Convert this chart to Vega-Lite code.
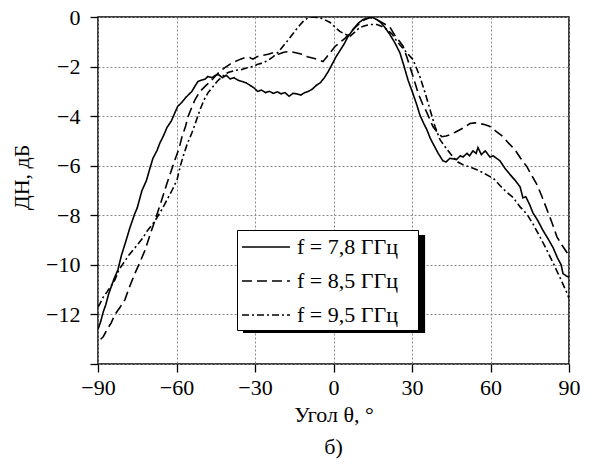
{
  "$schema": "https://vega.github.io/schema/vega-lite/v6.json",
  "width": 471,
  "height": 347,
  "autosize": {"type": "none"},
  "padding": {"left": 98, "top": 17, "right": 21, "bottom": 102},
  "background": "white",
  "title": {"text": "б)", "orient": "bottom", "font": "Liberation Serif, Times New Roman, serif", "fontSize": 22, "fontWeight": "normal", "color": "black", "offset": 12},
  "config": {
    "font": "Liberation Serif, Times New Roman, serif",
    "view": {"stroke": "black", "strokeWidth": 1.5},
    "axis": {
      "domain": false,
      "labelFont": "Liberation Serif, Times New Roman, serif",
      "labelFontSize": 22,
      "labelColor": "black",
      "titleFont": "Liberation Serif, Times New Roman, serif",
      "titleFontSize": 22,
      "titleFontWeight": "normal",
      "titleColor": "black",
      "tickColor": "black",
      "tickWidth": 1.3,
      "gridColor": "#8a8a8a",
      "gridDash": [2, 2],
      "gridWidth": 1
    }
  },
  "datasets": {
    "curves": [
      {"a": -90, "v": -12.6, "s": "f = 7,8 ГГц"},
      {"a": -89, "v": -12.3, "s": "f = 7,8 ГГц"},
      {"a": -88, "v": -11.9, "s": "f = 7,8 ГГц"},
      {"a": -87, "v": -11.6, "s": "f = 7,8 ГГц"},
      {"a": -86, "v": -11.2, "s": "f = 7,8 ГГц"},
      {"a": -85, "v": -10.9, "s": "f = 7,8 ГГц"},
      {"a": -84, "v": -10.6, "s": "f = 7,8 ГГц"},
      {"a": -82.4, "v": -10.2, "s": "f = 7,8 ГГц"},
      {"a": -81, "v": -9.6, "s": "f = 7,8 ГГц"},
      {"a": -79.5, "v": -9.1, "s": "f = 7,8 ГГц"},
      {"a": -77.8, "v": -8.5, "s": "f = 7,8 ГГц"},
      {"a": -76, "v": -7.95, "s": "f = 7,8 ГГц"},
      {"a": -75, "v": -7.7, "s": "f = 7,8 ГГц"},
      {"a": -73.2, "v": -7.0, "s": "f = 7,8 ГГц"},
      {"a": -71.5, "v": -6.6, "s": "f = 7,8 ГГц"},
      {"a": -70, "v": -6.05, "s": "f = 7,8 ГГц"},
      {"a": -69, "v": -5.7, "s": "f = 7,8 ГГц"},
      {"a": -67.5, "v": -5.4, "s": "f = 7,8 ГГц"},
      {"a": -66.3, "v": -5.07, "s": "f = 7,8 ГГц"},
      {"a": -65, "v": -4.8, "s": "f = 7,8 ГГц"},
      {"a": -63.6, "v": -4.45, "s": "f = 7,8 ГГц"},
      {"a": -62, "v": -4.2, "s": "f = 7,8 ГГц"},
      {"a": -60.6, "v": -3.86, "s": "f = 7,8 ГГц"},
      {"a": -59.5, "v": -3.6, "s": "f = 7,8 ГГц"},
      {"a": -58, "v": -3.45, "s": "f = 7,8 ГГц"},
      {"a": -56.5, "v": -3.25, "s": "f = 7,8 ГГц"},
      {"a": -54.1, "v": -3.0, "s": "f = 7,8 ГГц"},
      {"a": -53, "v": -2.8, "s": "f = 7,8 ГГц"},
      {"a": -51.8, "v": -2.6, "s": "f = 7,8 ГГц"},
      {"a": -50.5, "v": -2.55, "s": "f = 7,8 ГГц"},
      {"a": -49, "v": -2.5, "s": "f = 7,8 ГГц"},
      {"a": -48, "v": -2.4, "s": "f = 7,8 ГГц"},
      {"a": -46.5, "v": -2.45, "s": "f = 7,8 ГГц"},
      {"a": -45, "v": -2.35, "s": "f = 7,8 ГГц"},
      {"a": -44, "v": -2.32, "s": "f = 7,8 ГГц"},
      {"a": -42.5, "v": -2.45, "s": "f = 7,8 ГГц"},
      {"a": -41, "v": -2.35, "s": "f = 7,8 ГГц"},
      {"a": -39.5, "v": -2.5, "s": "f = 7,8 ГГц"},
      {"a": -38, "v": -2.45, "s": "f = 7,8 ГГц"},
      {"a": -36.5, "v": -2.55, "s": "f = 7,8 ГГц"},
      {"a": -35, "v": -2.6, "s": "f = 7,8 ГГц"},
      {"a": -33.5, "v": -2.65, "s": "f = 7,8 ГГц"},
      {"a": -32, "v": -2.75, "s": "f = 7,8 ГГц"},
      {"a": -30.5, "v": -2.85, "s": "f = 7,8 ГГц"},
      {"a": -29, "v": -3.0, "s": "f = 7,8 ГГц"},
      {"a": -27.5, "v": -2.95, "s": "f = 7,8 ГГц"},
      {"a": -26, "v": -3.05, "s": "f = 7,8 ГГц"},
      {"a": -24.5, "v": -3.0, "s": "f = 7,8 ГГц"},
      {"a": -23, "v": -3.08, "s": "f = 7,8 ГГц"},
      {"a": -21.5, "v": -3.02, "s": "f = 7,8 ГГц"},
      {"a": -20, "v": -3.1, "s": "f = 7,8 ГГц"},
      {"a": -18.5, "v": -3.05, "s": "f = 7,8 ГГц"},
      {"a": -17, "v": -3.2, "s": "f = 7,8 ГГц"},
      {"a": -15.5, "v": -3.08, "s": "f = 7,8 ГГц"},
      {"a": -14, "v": -3.1, "s": "f = 7,8 ГГц"},
      {"a": -12.5, "v": -3.15, "s": "f = 7,8 ГГц"},
      {"a": -11, "v": -3.05, "s": "f = 7,8 ГГц"},
      {"a": -9.5, "v": -3.0, "s": "f = 7,8 ГГц"},
      {"a": -8, "v": -2.9, "s": "f = 7,8 ГГц"},
      {"a": -6.5, "v": -2.75, "s": "f = 7,8 ГГц"},
      {"a": -5, "v": -2.65, "s": "f = 7,8 ГГц"},
      {"a": -3.5, "v": -2.45, "s": "f = 7,8 ГГц"},
      {"a": -2, "v": -2.2, "s": "f = 7,8 ГГц"},
      {"a": -0.5, "v": -1.9, "s": "f = 7,8 ГГц"},
      {"a": 1, "v": -1.6, "s": "f = 7,8 ГГц"},
      {"a": 2.5, "v": -1.35, "s": "f = 7,8 ГГц"},
      {"a": 4, "v": -1.1, "s": "f = 7,8 ГГц"},
      {"a": 5.5, "v": -0.8, "s": "f = 7,8 ГГц"},
      {"a": 7.5, "v": -0.5, "s": "f = 7,8 ГГц"},
      {"a": 9.5, "v": -0.25, "s": "f = 7,8 ГГц"},
      {"a": 11.3, "v": -0.1, "s": "f = 7,8 ГГц"},
      {"a": 13, "v": -0.05, "s": "f = 7,8 ГГц"},
      {"a": 14.7, "v": 0, "s": "f = 7,8 ГГц"},
      {"a": 16.5, "v": -0.1, "s": "f = 7,8 ГГц"},
      {"a": 17.8, "v": -0.2, "s": "f = 7,8 ГГц"},
      {"a": 19.5, "v": -0.4, "s": "f = 7,8 ГГц"},
      {"a": 21.5, "v": -0.7, "s": "f = 7,8 ГГц"},
      {"a": 23.5, "v": -1.05, "s": "f = 7,8 ГГц"},
      {"a": 25.4, "v": -1.45, "s": "f = 7,8 ГГц"},
      {"a": 27, "v": -2.0, "s": "f = 7,8 ГГц"},
      {"a": 28.5, "v": -2.55, "s": "f = 7,8 ГГц"},
      {"a": 30.4, "v": -3.1, "s": "f = 7,8 ГГц"},
      {"a": 32, "v": -3.6, "s": "f = 7,8 ГГц"},
      {"a": 33, "v": -3.95, "s": "f = 7,8 ГГц"},
      {"a": 34.5, "v": -4.3, "s": "f = 7,8 ГГц"},
      {"a": 35.7, "v": -4.55, "s": "f = 7,8 ГГц"},
      {"a": 37, "v": -4.9, "s": "f = 7,8 ГГц"},
      {"a": 38.5, "v": -5.2, "s": "f = 7,8 ГГц"},
      {"a": 40, "v": -5.5, "s": "f = 7,8 ГГц"},
      {"a": 41.8, "v": -5.8, "s": "f = 7,8 ГГц"},
      {"a": 43, "v": -5.85, "s": "f = 7,8 ГГц"},
      {"a": 44.5, "v": -5.7, "s": "f = 7,8 ГГц"},
      {"a": 45.6, "v": -5.72, "s": "f = 7,8 ГГц"},
      {"a": 47, "v": -5.75, "s": "f = 7,8 ГГц"},
      {"a": 48.5, "v": -5.6, "s": "f = 7,8 ГГц"},
      {"a": 49.5, "v": -5.65, "s": "f = 7,8 ГГц"},
      {"a": 51, "v": -5.5, "s": "f = 7,8 ГГц"},
      {"a": 52, "v": -5.6, "s": "f = 7,8 ГГц"},
      {"a": 53.3, "v": -5.4, "s": "f = 7,8 ГГц"},
      {"a": 54.5, "v": -5.5, "s": "f = 7,8 ГГц"},
      {"a": 55.2, "v": -5.27, "s": "f = 7,8 ГГц"},
      {"a": 56.5, "v": -5.55, "s": "f = 7,8 ГГц"},
      {"a": 58, "v": -5.4, "s": "f = 7,8 ГГц"},
      {"a": 59.8, "v": -5.65, "s": "f = 7,8 ГГц"},
      {"a": 61, "v": -5.6, "s": "f = 7,8 ГГц"},
      {"a": 63.6, "v": -5.8, "s": "f = 7,8 ГГц"},
      {"a": 65.5, "v": -6.1, "s": "f = 7,8 ГГц"},
      {"a": 67.4, "v": -6.35, "s": "f = 7,8 ГГц"},
      {"a": 69.5, "v": -6.6, "s": "f = 7,8 ГГц"},
      {"a": 71.3, "v": -6.85, "s": "f = 7,8 ГГц"},
      {"a": 72.4, "v": -7.3, "s": "f = 7,8 ГГц"},
      {"a": 73.5, "v": -7.25, "s": "f = 7,8 ГГц"},
      {"a": 75, "v": -7.58, "s": "f = 7,8 ГГц"},
      {"a": 76.2, "v": -7.9, "s": "f = 7,8 ГГц"},
      {"a": 78, "v": -8.2, "s": "f = 7,8 ГГц"},
      {"a": 80, "v": -8.6, "s": "f = 7,8 ГГц"},
      {"a": 82, "v": -8.95, "s": "f = 7,8 ГГц"},
      {"a": 83.9, "v": -9.3, "s": "f = 7,8 ГГц"},
      {"a": 85.5, "v": -9.7, "s": "f = 7,8 ГГц"},
      {"a": 87, "v": -10.0, "s": "f = 7,8 ГГц"},
      {"a": 87.7, "v": -10.35, "s": "f = 7,8 ГГц"},
      {"a": 89, "v": -10.45, "s": "f = 7,8 ГГц"},
      {"a": 90, "v": -10.5, "s": "f = 7,8 ГГц"},

      {"a": -89, "v": -13.0, "s": "f = 8,5 ГГц"},
      {"a": -88, "v": -12.9, "s": "f = 8,5 ГГц"},
      {"a": -86.5, "v": -12.6, "s": "f = 8,5 ГГц"},
      {"a": -85, "v": -12.35, "s": "f = 8,5 ГГц"},
      {"a": -83.5, "v": -12.0, "s": "f = 8,5 ГГц"},
      {"a": -81.5, "v": -11.7, "s": "f = 8,5 ГГц"},
      {"a": -79.7, "v": -11.4, "s": "f = 8,5 ГГц"},
      {"a": -78, "v": -10.9, "s": "f = 8,5 ГГц"},
      {"a": -75.9, "v": -10.35, "s": "f = 8,5 ГГц"},
      {"a": -74, "v": -9.9, "s": "f = 8,5 ГГц"},
      {"a": -72, "v": -9.4, "s": "f = 8,5 ГГц"},
      {"a": -70, "v": -8.75, "s": "f = 8,5 ГГц"},
      {"a": -68.2, "v": -8.2, "s": "f = 8,5 ГГц"},
      {"a": -66, "v": -7.5, "s": "f = 8,5 ГГц"},
      {"a": -63.6, "v": -6.7, "s": "f = 8,5 ГГц"},
      {"a": -62, "v": -6.2, "s": "f = 8,5 ГГц"},
      {"a": -60.6, "v": -5.76, "s": "f = 8,5 ГГц"},
      {"a": -59, "v": -5.3, "s": "f = 8,5 ГГц"},
      {"a": -57.9, "v": -4.83, "s": "f = 8,5 ГГц"},
      {"a": -56.5, "v": -4.4, "s": "f = 8,5 ГГц"},
      {"a": -55.6, "v": -4.02, "s": "f = 8,5 ГГц"},
      {"a": -54, "v": -3.6, "s": "f = 8,5 ГГц"},
      {"a": -52.9, "v": -3.33, "s": "f = 8,5 ГГц"},
      {"a": -51, "v": -3.0, "s": "f = 8,5 ГГц"},
      {"a": -49.1, "v": -2.8, "s": "f = 8,5 ГГц"},
      {"a": -47, "v": -2.6, "s": "f = 8,5 ГГц"},
      {"a": -45.3, "v": -2.4, "s": "f = 8,5 ГГц"},
      {"a": -43.5, "v": -2.2, "s": "f = 8,5 ГГц"},
      {"a": -41.5, "v": -2.04, "s": "f = 8,5 ГГц"},
      {"a": -39.5, "v": -1.9, "s": "f = 8,5 ГГц"},
      {"a": -37.7, "v": -1.8, "s": "f = 8,5 ГГц"},
      {"a": -35.5, "v": -1.7, "s": "f = 8,5 ГГц"},
      {"a": -33.8, "v": -1.64, "s": "f = 8,5 ГГц"},
      {"a": -32, "v": -1.64, "s": "f = 8,5 ГГц"},
      {"a": -30.8, "v": -1.7, "s": "f = 8,5 ГГц"},
      {"a": -29.2, "v": -1.6, "s": "f = 8,5 ГГц"},
      {"a": -27, "v": -1.55, "s": "f = 8,5 ГГц"},
      {"a": -25, "v": -1.5, "s": "f = 8,5 ГГц"},
      {"a": -23, "v": -1.44, "s": "f = 8,5 ГГц"},
      {"a": -21, "v": -1.5, "s": "f = 8,5 ГГц"},
      {"a": -19, "v": -1.42, "s": "f = 8,5 ГГц"},
      {"a": -16.6, "v": -1.39, "s": "f = 8,5 ГГц"},
      {"a": -14, "v": -1.45, "s": "f = 8,5 ГГц"},
      {"a": -12, "v": -1.5, "s": "f = 8,5 ГГц"},
      {"a": -10, "v": -1.6, "s": "f = 8,5 ГГц"},
      {"a": -8, "v": -1.65, "s": "f = 8,5 ГГц"},
      {"a": -6, "v": -1.72, "s": "f = 8,5 ГГц"},
      {"a": -4, "v": -1.8, "s": "f = 8,5 ГГц"},
      {"a": -2.5, "v": -1.6, "s": "f = 8,5 ГГц"},
      {"a": -1, "v": -1.4, "s": "f = 8,5 ГГц"},
      {"a": 0.5, "v": -1.2, "s": "f = 8,5 ГГц"},
      {"a": 2.4, "v": -1.03, "s": "f = 8,5 ГГц"},
      {"a": 4.5, "v": -0.85, "s": "f = 8,5 ГГц"},
      {"a": 6.3, "v": -0.64, "s": "f = 8,5 ГГц"},
      {"a": 8, "v": -0.45, "s": "f = 8,5 ГГц"},
      {"a": 10.1, "v": -0.24, "s": "f = 8,5 ГГц"},
      {"a": 12, "v": -0.1, "s": "f = 8,5 ГГц"},
      {"a": 14, "v": -0.02, "s": "f = 8,5 ГГц"},
      {"a": 16, "v": -0.08, "s": "f = 8,5 ГГц"},
      {"a": 17.8, "v": -0.18, "s": "f = 8,5 ГГц"},
      {"a": 19.5, "v": -0.28, "s": "f = 8,5 ГГц"},
      {"a": 21.6, "v": -0.42, "s": "f = 8,5 ГГц"},
      {"a": 23.5, "v": -0.75, "s": "f = 8,5 ГГц"},
      {"a": 25, "v": -0.95, "s": "f = 8,5 ГГц"},
      {"a": 26.6, "v": -1.18, "s": "f = 8,5 ГГц"},
      {"a": 28, "v": -1.6, "s": "f = 8,5 ГГц"},
      {"a": 29.2, "v": -2.0, "s": "f = 8,5 ГГц"},
      {"a": 30.4, "v": -2.4, "s": "f = 8,5 ГГц"},
      {"a": 32.3, "v": -3.06, "s": "f = 8,5 ГГц"},
      {"a": 34, "v": -3.5, "s": "f = 8,5 ГГц"},
      {"a": 35.7, "v": -3.86, "s": "f = 8,5 ГГц"},
      {"a": 38, "v": -4.42, "s": "f = 8,5 ГГц"},
      {"a": 40, "v": -4.7, "s": "f = 8,5 ГГц"},
      {"a": 41.4, "v": -4.83, "s": "f = 8,5 ГГц"},
      {"a": 43, "v": -4.8, "s": "f = 8,5 ГГц"},
      {"a": 44.5, "v": -4.75, "s": "f = 8,5 ГГц"},
      {"a": 46.5, "v": -4.65, "s": "f = 8,5 ГГц"},
      {"a": 48.3, "v": -4.55, "s": "f = 8,5 ГГц"},
      {"a": 50, "v": -4.45, "s": "f = 8,5 ГГц"},
      {"a": 52.1, "v": -4.3, "s": "f = 8,5 ГГц"},
      {"a": 54, "v": -4.27, "s": "f = 8,5 ГГц"},
      {"a": 56, "v": -4.3, "s": "f = 8,5 ГГц"},
      {"a": 58, "v": -4.35, "s": "f = 8,5 ГГц"},
      {"a": 59.8, "v": -4.42, "s": "f = 8,5 ГГц"},
      {"a": 62, "v": -4.6, "s": "f = 8,5 ГГц"},
      {"a": 64.8, "v": -4.83, "s": "f = 8,5 ГГц"},
      {"a": 67, "v": -5.1, "s": "f = 8,5 ГГц"},
      {"a": 69.3, "v": -5.35, "s": "f = 8,5 ГГц"},
      {"a": 71.5, "v": -5.7, "s": "f = 8,5 ГГц"},
      {"a": 73.9, "v": -6.04, "s": "f = 8,5 ГГц"},
      {"a": 75.8, "v": -6.4, "s": "f = 8,5 ГГц"},
      {"a": 77.7, "v": -6.75, "s": "f = 8,5 ГГц"},
      {"a": 79.5, "v": -7.2, "s": "f = 8,5 ГГц"},
      {"a": 81.6, "v": -7.78, "s": "f = 8,5 ГГц"},
      {"a": 83.5, "v": -8.3, "s": "f = 8,5 ГГц"},
      {"a": 85.4, "v": -8.87, "s": "f = 8,5 ГГц"},
      {"a": 87.3, "v": -9.2, "s": "f = 8,5 ГГц"},
      {"a": 89.2, "v": -9.5, "s": "f = 8,5 ГГц"},
      {"a": 90, "v": -9.6, "s": "f = 8,5 ГГц"},

      {"a": -90, "v": -11.7, "s": "f = 9,5 ГГц"},
      {"a": -89.2, "v": -11.55, "s": "f = 9,5 ГГц"},
      {"a": -88, "v": -11.3, "s": "f = 9,5 ГГц"},
      {"a": -86.6, "v": -11.1, "s": "f = 9,5 ГГц"},
      {"a": -85, "v": -10.85, "s": "f = 9,5 ГГц"},
      {"a": -83.5, "v": -10.6, "s": "f = 9,5 ГГц"},
      {"a": -82, "v": -10.2, "s": "f = 9,5 ГГц"},
      {"a": -80.4, "v": -9.95, "s": "f = 9,5 ГГц"},
      {"a": -78.5, "v": -9.65, "s": "f = 9,5 ГГц"},
      {"a": -76.6, "v": -9.4, "s": "f = 9,5 ГГц"},
      {"a": -75, "v": -9.2, "s": "f = 9,5 ГГц"},
      {"a": -72.8, "v": -8.9, "s": "f = 9,5 ГГц"},
      {"a": -71, "v": -8.6, "s": "f = 9,5 ГГц"},
      {"a": -69.4, "v": -8.4, "s": "f = 9,5 ГГц"},
      {"a": -67.5, "v": -8.1, "s": "f = 9,5 ГГц"},
      {"a": -65.5, "v": -7.75, "s": "f = 9,5 ГГц"},
      {"a": -63.6, "v": -7.37, "s": "f = 9,5 ГГц"},
      {"a": -61.5, "v": -6.95, "s": "f = 9,5 ГГц"},
      {"a": -59.8, "v": -6.57, "s": "f = 9,5 ГГц"},
      {"a": -58.5, "v": -6.0, "s": "f = 9,5 ГГц"},
      {"a": -57.5, "v": -5.64, "s": "f = 9,5 ГГц"},
      {"a": -56, "v": -5.15, "s": "f = 9,5 ГГц"},
      {"a": -54.1, "v": -4.67, "s": "f = 9,5 ГГц"},
      {"a": -52.5, "v": -4.2, "s": "f = 9,5 ГГц"},
      {"a": -51, "v": -3.74, "s": "f = 9,5 ГГц"},
      {"a": -49.5, "v": -3.35, "s": "f = 9,5 ГГц"},
      {"a": -48, "v": -3.06, "s": "f = 9,5 ГГц"},
      {"a": -46, "v": -2.8, "s": "f = 9,5 ГГц"},
      {"a": -44.5, "v": -2.6, "s": "f = 9,5 ГГц"},
      {"a": -42.5, "v": -2.4, "s": "f = 9,5 ГГц"},
      {"a": -40.3, "v": -2.24, "s": "f = 9,5 ГГц"},
      {"a": -37.5, "v": -2.15, "s": "f = 9,5 ГГц"},
      {"a": -35, "v": -2.12, "s": "f = 9,5 ГГц"},
      {"a": -33, "v": -2.05, "s": "f = 9,5 ГГц"},
      {"a": -30.8, "v": -2.0, "s": "f = 9,5 ГГц"},
      {"a": -29.2, "v": -1.92, "s": "f = 9,5 ГГц"},
      {"a": -27, "v": -1.85, "s": "f = 9,5 ГГц"},
      {"a": -25, "v": -1.75, "s": "f = 9,5 ГГц"},
      {"a": -23, "v": -1.6, "s": "f = 9,5 ГГц"},
      {"a": -21, "v": -1.4, "s": "f = 9,5 ГГц"},
      {"a": -19.3, "v": -1.18, "s": "f = 9,5 ГГц"},
      {"a": -17.5, "v": -0.95, "s": "f = 9,5 ГГц"},
      {"a": -15.5, "v": -0.68, "s": "f = 9,5 ГГц"},
      {"a": -13.5, "v": -0.4, "s": "f = 9,5 ГГц"},
      {"a": -11.6, "v": -0.18, "s": "f = 9,5 ГГц"},
      {"a": -10, "v": -0.05, "s": "f = 9,5 ГГц"},
      {"a": -8.2, "v": 0, "s": "f = 9,5 ГГц"},
      {"a": -6.5, "v": -0.02, "s": "f = 9,5 ГГц"},
      {"a": -5.2, "v": -0.03, "s": "f = 9,5 ГГц"},
      {"a": -3.5, "v": -0.1, "s": "f = 9,5 ГГц"},
      {"a": -1.3, "v": -0.22, "s": "f = 9,5 ГГц"},
      {"a": 0.5, "v": -0.4, "s": "f = 9,5 ГГц"},
      {"a": 2.4, "v": -0.58, "s": "f = 9,5 ГГц"},
      {"a": 4.5, "v": -0.7, "s": "f = 9,5 ГГц"},
      {"a": 6.3, "v": -0.78, "s": "f = 9,5 ГГц"},
      {"a": 8, "v": -0.62, "s": "f = 9,5 ГГц"},
      {"a": 10.1, "v": -0.42, "s": "f = 9,5 ГГц"},
      {"a": 12, "v": -0.35, "s": "f = 9,5 ГГц"},
      {"a": 14, "v": -0.3, "s": "f = 9,5 ГГц"},
      {"a": 16.6, "v": -0.3, "s": "f = 9,5 ГГц"},
      {"a": 18.5, "v": -0.38, "s": "f = 9,5 ГГц"},
      {"a": 20.4, "v": -0.5, "s": "f = 9,5 ГГц"},
      {"a": 22.5, "v": -0.7, "s": "f = 9,5 ГГц"},
      {"a": 24.2, "v": -0.98, "s": "f = 9,5 ГГц"},
      {"a": 26, "v": -1.2, "s": "f = 9,5 ГГц"},
      {"a": 28.1, "v": -1.45, "s": "f = 9,5 ГГц"},
      {"a": 30.4, "v": -1.72, "s": "f = 9,5 ГГц"},
      {"a": 33, "v": -2.4, "s": "f = 9,5 ГГц"},
      {"a": 35, "v": -3.06, "s": "f = 9,5 ГГц"},
      {"a": 36.9, "v": -3.74, "s": "f = 9,5 ГГц"},
      {"a": 38.8, "v": -4.42, "s": "f = 9,5 ГГц"},
      {"a": 40.7, "v": -4.95, "s": "f = 9,5 ГГц"},
      {"a": 43.4, "v": -5.35, "s": "f = 9,5 ГГц"},
      {"a": 45.6, "v": -5.64, "s": "f = 9,5 ГГц"},
      {"a": 47.5, "v": -5.85, "s": "f = 9,5 ГГц"},
      {"a": 49.5, "v": -5.96, "s": "f = 9,5 ГГц"},
      {"a": 52, "v": -6.05, "s": "f = 9,5 ГГц"},
      {"a": 54.8, "v": -6.16, "s": "f = 9,5 ГГц"},
      {"a": 57.5, "v": -6.3, "s": "f = 9,5 ГГц"},
      {"a": 59.8, "v": -6.44, "s": "f = 9,5 ГГц"},
      {"a": 61.5, "v": -6.55, "s": "f = 9,5 ГГц"},
      {"a": 63.6, "v": -6.8, "s": "f = 9,5 ГГц"},
      {"a": 66, "v": -7.05, "s": "f = 9,5 ГГц"},
      {"a": 68.6, "v": -7.28, "s": "f = 9,5 ГГц"},
      {"a": 71.3, "v": -7.66, "s": "f = 9,5 ГГц"},
      {"a": 73.9, "v": -7.95, "s": "f = 9,5 ГГц"},
      {"a": 76.5, "v": -8.4, "s": "f = 9,5 ГГц"},
      {"a": 78.9, "v": -8.87, "s": "f = 9,5 ГГц"},
      {"a": 81.5, "v": -9.4, "s": "f = 9,5 ГГц"},
      {"a": 83.9, "v": -9.92, "s": "f = 9,5 ГГц"},
      {"a": 86.5, "v": -10.5, "s": "f = 9,5 ГГц"},
      {"a": 89.2, "v": -11.13, "s": "f = 9,5 ГГц"},
      {"a": 90, "v": -11.35, "s": "f = 9,5 ГГц"}
    ]
  },
  "layer": [
    {
      "data": {"name": "curves"},
      "mark": {"type": "line", "strokeWidth": 1.6, "color": "black", "clip": true},
      "encoding": {
        "x": {
          "field": "a", "type": "quantitative",
          "scale": {"domain": [-90, 90], "nice": false},
          "axis": {
            "title": "Угол θ, °",
            "values": [-90, -75, -60, -45, -30, -15, 0, 15, 30, 45, 60, 75, 90],
            "labelExpr": "datum.value % 30 === 0 ? (datum.value < 0 ? '−' + abs(datum.value) : '' + datum.value) : ''",
            "tickSize": {"condition": {"test": "datum.value % 30 === 0", "value": 8}, "value": 4},
            "gridOpacity": {"condition": {"test": "datum.value % 30 === 0", "value": 1}, "value": 0},
            "labelPadding": 5,
            "titlePadding": 6,
            "labelFlush": false
          }
        },
        "y": {
          "field": "v", "type": "quantitative",
          "scale": {"domain": [-14, 0], "nice": false},
          "axis": {
            "title": "ДН, дБ",
            "values": [-14, -13, -12, -11, -10, -9, -8, -7, -6, -5, -4, -3, -2, -1, 0],
            "labelExpr": "datum.value % 2 === 0 && datum.value > -14 ? (datum.value < 0 ? '−' + abs(datum.value) : '' + datum.value) : ''",
            "tickSize": {"condition": {"test": "datum.value % 2 === 0", "value": 8}, "value": 4},
            "gridOpacity": {"condition": {"test": "datum.value % 2 === 0", "value": 1}, "value": 0},
            "labelPadding": 10,
            "titlePadding": 12,
            "titleY": 160,
            "labelFlush": false
          }
        },
        "strokeDash": {
          "field": "s", "type": "nominal",
          "scale": {"domain": ["f = 7,8 ГГц", "f = 8,5 ГГц", "f = 9,5 ГГц"], "range": [[1, 0], [10, 5], [7, 3, 2, 3]]},
          "legend": {
            "title": null,
            "orient": "none",
            "legendX": 139,
            "legendY": 213,
            "symbolType": "M-1,0H3",
            "symbolSize": 576,
            "symbolStrokeWidth": 1.6,
            "symbolStrokeColor": "black",
            "symbolFillColor": "transparent",
            "labelFont": "Liberation Serif, Times New Roman, serif",
            "labelFontSize": 22,
            "labelColor": "black",
            "labelOffset": 30,
            "labelExpr": "datum.label + '\u2002\u2009\u200b'",
            "strokeColor": "black",
            "fillColor": "white",
            "padding": 4,
            "rowPadding": 10,
            "zindex": 1
          }
        }
      }
    },
    {
      "data": {"values": [{}]},
      "mark": {"type": "rect", "color": "black"},
      "encoding": {
        "x": {"datum": -34.6, "type": "quantitative"},
        "x2": {"datum": 35.0},
        "y": {"datum": -8.8, "type": "quantitative"},
        "y2": {"datum": -12.75}
      }
    }
  ]
}
